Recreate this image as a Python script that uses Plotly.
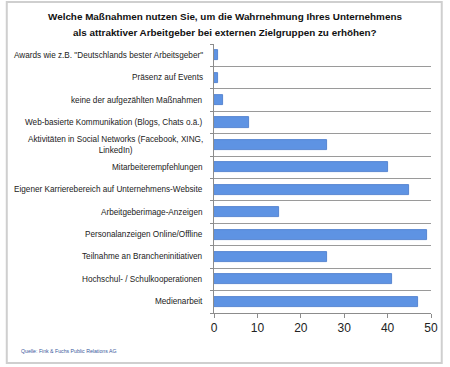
import plotly.graph_objects as go

categories = [
    'Awards wie z.B. "Deutschlands bester Arbeitsgeber"',
    "Präsenz auf Events",
    "keine der aufgezählten Maßnahmen",
    "Web-basierte Kommunikation (Blogs, Chats o.ä.)",
    "Aktivitäten in Social Networks (Facebook, XING,<br>LinkedIn)",
    "Mitarbeiterempfehlungen",
    "Eigener Karrierebereich auf Unternehmens-Website",
    "Arbeitgeberimage-Anzeigen",
    "Personalanzeigen Online/Offline",
    "Teilnahme an Brancheninitiativen",
    "Hochschul- / Schulkooperationen",
    "Medienarbeit",
]
values = [1, 1, 2, 8, 26, 40, 45, 15, 49, 26, 41, 47]
x_ticks = [0, 10, 20, 30, 40, 50]
title_lines = [
    "Welche Maßnahmen nutzen Sie, um die Wahrnehmung Ihres Unternehmens",
    "als attraktiver Arbeitgeber bei externen Zielgruppen zu erhöhen?",
]
source = "Quelle: Fink & Fuchs Public Relations AG"

n = len(categories)
pos = list(range(n))
FONT = "Liberation Sans, Arial, sans-serif"

fig = go.Figure()
fig.add_trace(go.Bar(
    x=values, y=pos, orientation="h", width=0.45,
    marker=dict(color="#5e93e3", line=dict(color="#4576c9", width=0.8)),
    hoverinfo="x",
))
fig.add_trace(go.Scatter(x=[0], y=[0], yaxis="y2", mode="markers",
                         marker=dict(opacity=0), showlegend=False, hoverinfo="skip"))

fig.update_layout(
    width=450, height=367,
    margin=dict(l=214, r=14, t=44, b=54),
    paper_bgcolor="white", plot_bgcolor="white",
    showlegend=False,
    bargap=0,
    xaxis=dict(
        range=[0, 50], tickvals=x_ticks, showgrid=False, zeroline=False,
        showline=True, linecolor="#8c8c8c", linewidth=1,
        ticks="outside", ticklen=4, tickcolor="#8c8c8c",
        tickfont=dict(family=FONT, size=12, color="#222"),
    ),
    yaxis=dict(
        range=[n - 0.5, -0.5], showticklabels=False, showgrid=False,
        zeroline=False, showline=True, linecolor="#8c8c8c", linewidth=1,
        ticks="",
    ),
    yaxis2=dict(
        overlaying="y", side="left", range=[n - 0.5, -0.5],
        tickvals=[i - 0.5 for i in range(n + 1)], showticklabels=False,
        showgrid=True, gridcolor="#9a9a9a", gridwidth=1, zeroline=False,
        ticks="outside", ticklen=3, tickcolor="#8c8c8c", showline=False,
    ),
)

for i, c in enumerate(categories):
    fig.add_annotation(
        xref="paper", yref="y", x=0, y=i, xshift=-9, xanchor="right",
        yanchor="middle", text=c, showarrow=False, align="center",
        font=dict(family=FONT, size=8.2, color="#222"),
    )

for j, t in enumerate(title_lines):
    fig.add_annotation(
        xref="paper", yref="paper", x=(225 - 214) / 222,
        y=(313 - (16 + 17 * j)) / 269, xanchor="center", yanchor="middle",
        text="<b>" + t + "</b>", showarrow=False,
        font=dict(family=FONT, size=9.9, color="#111"),
    )

fig.add_annotation(
    xref="paper", yref="paper", x=(14 - 214) / 222, y=(313 - 351) / 269,
    xanchor="left", yanchor="middle", text=source, showarrow=False,
    font=dict(family=FONT, size=5.2, color="#3a5a9c"),
)

fig.add_shape(type="rect", xref="paper", yref="paper",
              x0=(2 - 214) / 222, x1=(447 - 214) / 222,
              y0=(313 - 363) / 269, y1=(313 - 2) / 269,
              line=dict(color="#cfcfcf", width=2), fillcolor="rgba(0,0,0,0)",
              layer="above")

fig.write_html("out.html", config={"displayModeBar": False},
               post_script="document.body.style.margin='0';")
